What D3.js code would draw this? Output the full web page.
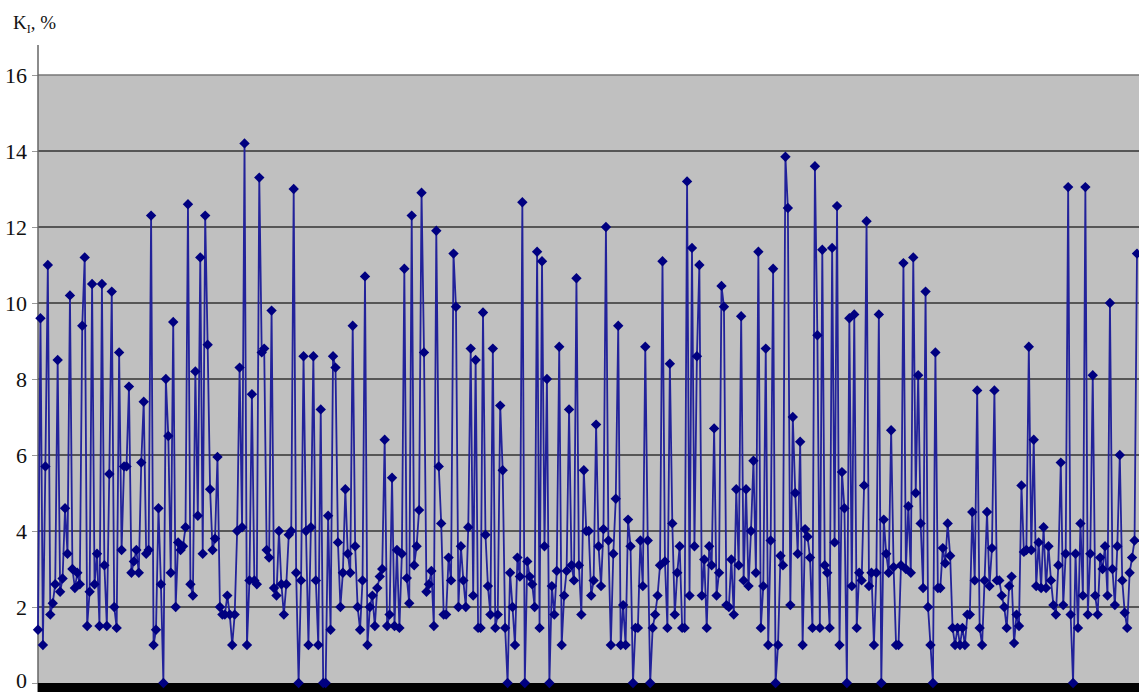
<!DOCTYPE html>
<html>
<head>
<meta charset="utf-8">
<script src="https://cdn.jsdelivr.net/npm/d3@7"></script>
<style>
  body { margin: 0; background: #fff; }
  svg { display: block; }
  .tick text { font-family: "Liberation Serif", "Times New Roman", serif; }
</style>
</head>
<body>
<svg id="chart" width="1139" height="692"></svg>
<script>
// KI values in chart order
const kiPart1 = [
  1.4, 9.6, 1.0, 5.7, 11.0, 1.8, 2.1, 2.6, 8.5, 2.4,
  2.75, 4.6, 3.4, 10.2, 3.0, 2.5, 2.9, 2.6, 9.4, 11.2,
  1.5, 2.4, 10.5, 2.6, 3.4, 1.5, 10.5, 3.1, 1.5, 5.5,
  10.3, 2.0, 1.45, 8.7, 3.5, 5.7, 5.7, 7.8, 2.9, 3.2,
  3.5, 2.9, 5.8, 7.4, 3.4, 3.5, 12.3, 1.0, 1.4, 4.6,
  2.6, 0, 8.0, 6.5, 2.9, 9.5, 2.0, 3.7, 3.5, 3.6,
  4.1, 12.6, 2.6, 2.3, 8.2, 4.4, 11.2, 3.4, 12.3, 8.9,
  5.1, 3.5, 3.8, 5.95, 2.0, 1.8, 1.8, 2.3, 1.8, 1.0,
  1.8, 4.0, 8.3, 4.1, 14.2, 1.0, 2.7, 7.6, 2.7, 2.6,
  13.3, 8.7, 8.8, 3.5, 3.3, 9.8, 2.5, 2.3, 4.0, 2.6,
  1.8, 2.6, 3.9, 4.0, 13.0, 2.9, 0, 2.7, 8.6, 4.0,
  1.0, 4.1, 8.6, 2.7, 1.0, 7.2, 0, 0, 4.4, 1.4,
  8.6, 8.3, 3.7, 2.0, 2.9, 5.1, 3.4, 2.9, 9.4,
  3.6, 2.0, 1.4, 2.7, 10.7, 1.0, 2.0, 2.3, 1.5,
  2.5, 2.8, 3.0, 6.4, 1.5, 1.8, 5.4, 1.5, 3.5
];
const kiPart2 = [
  1.45, 3.4, 10.9, 2.76, 2.1, 12.3, 3.1, 3.6, 4.55, 12.9,
  8.7, 2.4, 2.6, 2.95, 1.5, 11.9, 5.7, 4.2, 1.8, 1.8,
  3.3, 2.7, 11.3, 9.9, 2.0, 3.6, 2.7, 2.0, 4.1, 8.8,
  2.3, 8.5, 1.45, 1.45, 9.75, 3.9, 2.55, 1.8, 8.8, 1.45,
  1.8, 7.3, 5.6, 1.45, 0, 2.9, 2.0, 1.0, 3.3, 2.8,
  12.65, 0, 3.2, 2.8, 2.6, 2.0, 11.35, 1.45, 11.1, 3.6
];
const kiPart3 = [
  8.0, 0, 2.55, 1.8, 2.95, 8.85, 1.0, 2.3, 2.95, 7.2,
  3.1, 2.7, 10.65, 3.1, 1.8, 5.6, 4.0, 4.0, 2.3, 2.7,
  6.8, 3.6, 2.55, 4.05, 12.0, 3.75, 1.0, 3.4, 4.85, 9.4,
  1.0, 2.05, 1.0, 4.3, 3.6, 0, 1.45, 1.45, 3.75, 2.55,
  8.85, 3.75, 0, 1.45, 1.8, 2.3, 3.1, 11.1, 3.2, 1.45,
  8.4, 4.2, 1.8, 2.9, 3.6, 1.45, 1.45, 13.2, 2.3, 11.45, 3.6
];
const kiPart4 = [
  8.6, 11.0, 2.3, 3.25, 1.45, 3.6, 3.1, 6.7, 2.3, 2.9,
  10.45, 9.9, 2.05, 2.0, 3.25, 1.8, 5.1, 3.1, 9.65, 2.7,
  5.1, 2.55, 4.0, 5.85, 2.9, 11.35, 1.45, 2.55, 8.8, 1.0,
  3.75, 10.9, 0, 1.0, 3.35, 3.1, 13.85, 12.5, 2.05, 7.0,
  5.0, 3.4, 6.35, 1.0, 4.05, 3.85, 3.3, 1.45, 13.6, 9.15,
  1.45, 11.4, 3.1, 2.9, 1.45, 11.45, 3.7, 12.55, 1.0, 5.55, 4.6
];
const kiPart5 = [
  0, 9.6, 2.55, 9.7, 1.45, 2.9, 2.7, 5.2, 12.15, 2.55,
  2.9, 1.0, 2.9, 9.7, 0, 4.3, 3.4, 2.9, 6.65, 3.05,
  1.0, 1.0, 3.1, 11.05, 3.0, 4.65, 2.9, 11.2, 5.0, 8.1,
  4.2, 2.5, 10.3, 2.0, 1.0, 0, 8.7, 2.5, 2.5, 3.55,
  3.15, 4.2, 3.35, 1.45, 1.0, 1.45, 1.0, 1.45, 1.0, 1.8,
  1.8, 4.5, 2.7, 7.7, 1.45, 1.0, 2.7, 4.5, 2.55, 3.55,
  7.7, 2.7, 2.7, 2.3, 2.0, 1.45, 2.55
];
const kiPart6 = [
  2.8, 1.05, 1.8, 1.5, 5.2, 3.45, 3.5, 8.85, 3.5, 6.4,
  2.55, 3.7, 2.5, 4.1, 2.5, 3.6, 2.7, 2.05, 1.8, 3.1,
  5.8, 2.05, 3.4, 13.05, 1.8, 0, 3.4, 1.45, 4.2, 2.3,
  13.05, 1.8, 3.4, 8.1, 2.3, 1.8, 3.3, 3.0, 3.6, 2.3,
  10.0, 3.0, 2.05, 3.6, 6.0, 2.7, 1.85, 1.45, 2.9, 3.3,
  3.75, 11.3
];
const yTicks = [0, 2, 4, 6, 8, 10, 12, 14, 16];

const ki = [].concat(kiPart1, kiPart2, kiPart3, kiPart4, kiPart5, kiPart6);

const svg = d3.select('#chart');
const plot = {left: 38, right: 1139, top: 75, bottom: 683};

const x = d3.scaleLinear()
  .domain([0, ki.length - 1])
  .range([plot.left, 1137]);

const y = d3.scaleLinear()
  .domain([0, 16])
  .range([plot.bottom, plot.top]);

// gray plot area
svg.append('rect')
  .attr('x', plot.left)
  .attr('y', plot.top)
  .attr('width', plot.right - plot.left)
  .attr('height', plot.bottom - plot.top)
  .attr('fill', '#c0c0c0');

// y axis with gridlines
const yAxis = d3.axisLeft(y)
  .tickValues(yTicks)
  .tickSize(6)
  .tickPadding(5);

const yAxisG = svg.append('g')
  .attr('transform', `translate(${plot.left},0)`)
  .call(yAxis);

yAxisG.select('.domain').remove();
yAxisG.selectAll('.tick line').attr('stroke', '#999');
yAxisG.selectAll('.tick text')
  .attr('font-size', 22)
  .attr('dy', d => d === 0 ? '0.2em' : '0.32em')
  .attr('fill', '#111');

svg.append('g')
  .selectAll('line')
  .data(yTicks.filter(d => d > 0))
  .enter()
  .append('line')
    .attr('x1', plot.left)
    .attr('x2', plot.right)
    .attr('y1', d => y(d))
    .attr('y2', d => y(d))
    .attr('stroke', d => d === 16 ? '#777' : '#333')
    .attr('stroke-width', 1.5);

// left axis line
svg.append('line')
  .attr('x1', plot.left).attr('x2', plot.left)
  .attr('y1', 45).attr('y2', 692)
  .attr('stroke', '#666')
  .attr('stroke-width', 1.5);

// dark band along the category axis
svg.append('rect')
  .attr('x', plot.left)
  .attr('y', plot.bottom)
  .attr('width', plot.right - plot.left)
  .attr('height', 692 - plot.bottom)
  .attr('fill', '#000');

// series line
const line = d3.line()
  .x((d, i) => x(i))
  .y(d => y(d));

svg.append('path')
  .datum(ki)
  .attr('d', line)
  .attr('fill', 'none')
  .attr('stroke', '#22229a')
  .attr('stroke-width', 1.8);

// diamond markers
svg.append('g')
  .selectAll('path')
  .data(ki)
  .enter()
  .append('path')
    .attr('transform', (d, i) => `translate(${x(i)},${y(d)})`)
    .attr('d', 'M0,-5.2L5.2,0L0,5.2L-5.2,0Z')
    .attr('fill', '#000080');

// axis title
const title = svg.append('text')
  .attr('x', 13)
  .attr('y', 29)
  .attr('font-family', '"Liberation Serif", "Times New Roman", serif')
  .attr('font-size', 19)
  .attr('fill', '#111');
title.append('tspan').text('K');
title.append('tspan').attr('font-size', 12).attr('dy', 4).text('I');
title.append('tspan').attr('dy', -4).text(', %');
</script>
</body>
</html>
